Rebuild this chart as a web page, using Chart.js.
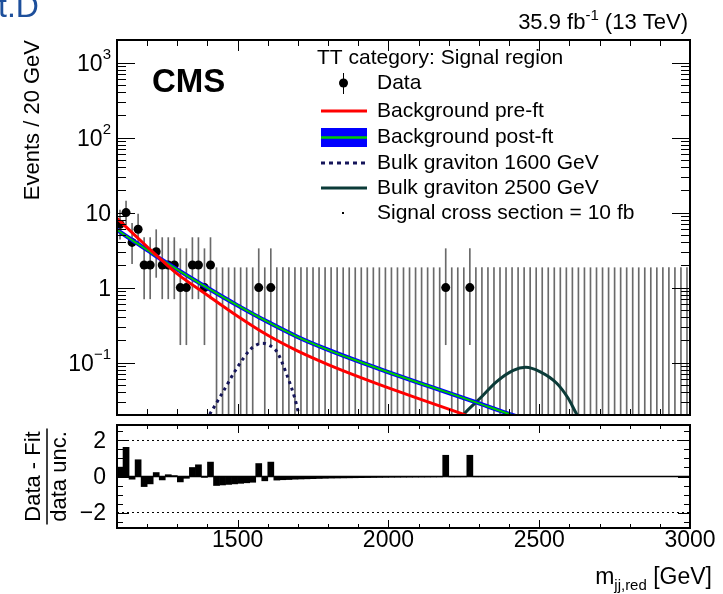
<!DOCTYPE html>
<html><head><meta charset="utf-8">
<script src="https://cdn.jsdelivr.net/npm/chart.js@4/dist/chart.umd.min.js"></script>
<style>
html,body{margin:0;padding:0;background:#fff;width:723px;height:594px;overflow:hidden;}
canvas{position:absolute;left:0;}
#topc{top:0;width:723px;height:420px;}
#botc{top:420px;width:723px;height:174px;}
</style></head><body>
<canvas id="topc" width="723" height="420"></canvas>
<canvas id="botc" width="723" height="174"></canvas>
<script>
const FONT = "'Liberation Sans', Arial, Helvetica, sans-serif";

// ---------- data ----------
const binCenters = [1110,1130,1150,1170,1190,1210,1230,1250,1270,1290,1310,1330,1350,1370,1390,1410,1430,1450,1470,1490,
  1510,1530,1550,1570,1590,1610,1630,1650,1670,1690,1710,1730,1750,1770,1790,1810,1830,1850,1870,1890,
  1910,1930,1950,1970,1990,2010,2030,2050,2070,2090,2110,2130,2150,2170,2190,2210,2230,2250,2270,2290,
  2310,2330,2350,2370,2390,2410,2430,2450,2470,2490,2510,2530,2550,2570,2590,2610,2630,2650,2670,2690,
  2710,2730,2750,2770,2790,2810,2830,2850,2870,2890,2910,2930,2950,2970,2990];
const dataCounts = [7,10,4,6,2,2,3,2,2,2,1,1,2,2,1,2,0,0,0,0,
  0,0,0,1,0,1,0,0,0,0,0,0,0,0,0,0,0,0,0,0,
  0,0,0,0,0,0,0,0,0,0,0,0,0,0,1,0,0,0,1,0,
  0,0,0,0,0,0,0,0,0,0,0,0,0,0,0,0,0,0,0,0,
  0,0,0,0,0,0,0,0,0,0,0,0,0,0,0];
// Poisson (Garwood 68%) interval edges per observed count
const poissonLow  = {0:0.02, 1:0.173, 2:0.708, 3:1.367, 4:2.086, 6:3.620, 7:4.419, 10:6.891};
const poissonHigh = {0:1.841, 1:3.300, 2:4.638, 3:5.918, 4:7.163, 6:9.584, 7:10.77, 10:14.27};

const pulls = [0.52,1.62,-0.15,0.93,-0.56,-0.41,0.22,-0.19,0.10,0.05,-0.30,-0.10,0.50,0.65,-0.05,0.80,-0.50,-0.47,-0.44,-0.41,
  -0.38,-0.35,-0.32,0.72,-0.24,0.80,-0.20,-0.18,-0.17,-0.15,-0.14,-0.13,-0.12,-0.11,-0.10,-0.09,-0.085,-0.08,-0.075,-0.07,
  -0.065,-0.06,-0.055,-0.05,-0.045,-0.04,-0.038,-0.035,-0.033,-0.03,-0.028,-0.026,-0.024,-0.022,1.18,-0.02,-0.019,-0.018,1.18,-0.016,
  -0.015,-0.014,-0.013,-0.012,-0.012,-0.011,-0.010,-0.010,-0.009,-0.009,-0.008,-0.008,-0.007,-0.007,-0.007,-0.006,-0.006,-0.006,-0.005,-0.005,
  -0.005,-0.005,-0.005,-0.005,-0.004,-0.004,-0.004,-0.004,-0.004,-0.004,-0.003,-0.003,-0.003,-0.003,-0.003];

const preFitX = [1100,1150,1200,1250,1300,1400,1500,1600,1700,1800,1900,2000,2100,2200,2300];
const preFitY = [8.4,5.4,3.5,2.28,1.52,0.79,0.415,0.231,0.142,0.094,0.065,0.046,0.033,0.0239,0.0174];
const postFitX = [1100,1150,1200,1250,1300,1400,1500,1600,1700,1800,1900,2000,2100,2200,2300,2400,2460];
const postFitY = [5.9,4.3,3.17,2.33,1.74,0.99,0.577,0.348,0.219,0.148,0.104,0.0743,0.0538,0.0394,0.0286,0.0207,0.0173];
const grav1600X = [1395,1406,1452,1497,1541,1560,1583,1605,1630,1663,1690,1704,1712];
const grav1600Y = [0.017,0.02,0.041,0.084,0.148,0.170,0.181,0.170,0.140,0.069,0.033,0.020,0.017];
const grav2500X = [2240,2248,2304,2359,2414,2455,2502,2558,2596,2626,2635];
const grav2500Y = [0.018,0.020,0.0334,0.0558,0.0788,0.0865,0.0757,0.053,0.0334,0.020,0.018];

const yTickValues = [0.1,1,10,100,1000];
const yTickBase = ['10','1','10','10','10'];
const yTickExp = ['\u22121','','','2','3'];
const xTickValues = [1500,2000,2500,3000];
const xTickLabels = ['1500','2000','2500','3000'];
const rTickValues = [-2,0,2];
const rTickLabels = ['\u22122','0','2'];

const legendHeader = 'TT category: Signal region';
const legendLabels = ['Data','Background pre-ft','Background post-ft','Bulk graviton 1600 GeV','Bulk graviton 2500 GeV','Signal cross section = 10 fb'];
const cmsLabel = 'CMS';
const lumiParts = ['35.9 fb','-1',' (13 TeV)'];
const cornerText = 't.D';
const xTitleParts = ['m','jj,red',' [GeV]'];
const yTitle = 'Events / 20 GeV';
const rTitleNum = 'Data - Fit';
const rTitleDen = 'data unc.';

// ---------- derived datasets ----------
const pts = (xs, ys) => xs.map((x,i)=>({x, y: ys[i]}));
const dataPoints = binCenters.map((x,i)=>({x, y: dataCounts[i]})).filter(p=>p.y>0);
const errBars = binCenters.map((x,i)=>({x, y:[poissonLow[dataCounts[i]], poissonHigh[dataCounts[i]]]}));
const pullBars = binCenters.map((x,i)=>({x, y: pulls[i]}));

// ---------- plugins ----------
const rootFrame = {
  id: 'rootFrame',
  afterDatasetsDraw(chart, args, o) {
    const {ctx, chartArea: a, scales} = chart;
    const xs = scales.x, ys = scales.y;
    ctx.save();
    if (o.hlines) {
      o.hlines.forEach(h => {
        const p = ys.getPixelForValue(h.v);
        ctx.beginPath(); ctx.setLineDash(h.dash || []); ctx.lineWidth = h.w; ctx.strokeStyle = '#000';
        ctx.moveTo(a.left, p); ctx.lineTo(a.right, p); ctx.stroke();
      });
      ctx.setLineDash([]);
    }
    ctx.strokeStyle = '#000'; ctx.lineWidth = 1;
    ctx.beginPath();
    const xt = (list, len) => list.forEach(v => {
      const p = Math.round(xs.getPixelForValue(v)) + 0.5;
      if (p <= a.left + 1 || p >= a.right - 1) return;
      ctx.moveTo(p, a.bottom); ctx.lineTo(p, a.bottom - len);
      ctx.moveTo(p, a.top); ctx.lineTo(p, a.top + len);
    });
    const yt = (list, len) => list.forEach(v => {
      const p = Math.round(ys.getPixelForValue(v)) + 0.5;
      if (p <= a.top + 1 || p >= a.bottom - 1) return;
      ctx.moveTo(a.left, p); ctx.lineTo(a.left + len, p);
      ctx.moveTo(a.right, p); ctx.lineTo(a.right - len, p);
    });
    xt(o.xMajor, o.xMajLen); xt(o.xMinor, o.xMinLen);
    yt(o.yMajor, o.yMajLen); yt(o.yMinor, o.yMinLen);
    ctx.stroke();
    ctx.lineWidth = 2;
    ctx.strokeRect(a.left, a.top, a.right - a.left, a.bottom - a.top);
    ctx.restore();
  }
};

const topText = {
  id: 'topText',
  afterDraw(chart) {
    const ctx = chart.ctx;
    const ys = chart.scales.y;
    ctx.save();
    ctx.fillStyle = '#000'; ctx.textBaseline = 'alphabetic'; ctx.textAlign = 'left';
    yTickValues.forEach((v, i) => {
      const p = ys.getPixelForValue(v);
      ctx.font = `23px ${FONT}`;
      const wb = ctx.measureText(yTickBase[i]).width;
      ctx.font = `15px ${FONT}`;
      const we = yTickExp[i] ? ctx.measureText(yTickExp[i]).width : 0;
      const right = 111;
      ctx.font = `23px ${FONT}`;
      ctx.fillText(yTickBase[i], right - we - wb, p + 8);
      if (yTickExp[i]) { ctx.font = `15px ${FONT}`; ctx.fillText(yTickExp[i], right - we, p - 4); }
    });
    // corner (cut) text
    ctx.fillStyle = '#1d4f9b';
    ctx.font = `32px ${FONT}`;
    ctx.fillText(cornerText, -2, 17);
    // lumi
    ctx.fillStyle = '#000';
    ctx.font = `22px ${FONT}`;
    const w3 = ctx.measureText(lumiParts[2]).width;
    ctx.font = `15px ${FONT}`;
    const w2 = ctx.measureText(lumiParts[1]).width;
    ctx.font = `22px ${FONT}`;
    const w1 = ctx.measureText(lumiParts[0]).width;
    const xr = 688;
    ctx.fillText(lumiParts[2], xr - w3, 29);
    ctx.font = `15px ${FONT}`;
    ctx.fillText(lumiParts[1], xr - w3 - w2, 20);
    ctx.font = `22px ${FONT}`;
    ctx.fillText(lumiParts[0], xr - w3 - w2 - w1, 29);
    // CMS
    ctx.font = `bold 33px ${FONT}`;
    ctx.fillText(cmsLabel, 152, 92);
    // legend
    ctx.font = `21px ${FONT}`; ctx.textBaseline = 'middle';
    ctx.fillText(legendHeader, 317, 58);
    const ly = [83,111,137,163,188,213];
    legendLabels.forEach((t,i)=> ctx.fillText(t, 377, ly[i]));
    ctx.strokeStyle = '#000'; ctx.lineWidth = 1;
    ctx.beginPath(); ctx.moveTo(343.5, 73); ctx.lineTo(343.5, 94); ctx.stroke();
    ctx.beginPath(); ctx.arc(343.5, 83, 4.5, 0, Math.PI*2); ctx.fill();
    ctx.lineWidth = 3; ctx.strokeStyle = '#ff0000';
    ctx.beginPath(); ctx.moveTo(321, 111); ctx.lineTo(367, 111); ctx.stroke();
    ctx.fillStyle = '#0000ff'; ctx.fillRect(321, 128, 46, 19);
    ctx.strokeStyle = '#00cc00'; ctx.lineWidth = 2.5;
    ctx.beginPath(); ctx.moveTo(321, 137.5); ctx.lineTo(367, 137.5); ctx.stroke();
    ctx.strokeStyle = '#15155a'; ctx.lineWidth = 3; ctx.setLineDash([4,4]);
    ctx.beginPath(); ctx.moveTo(321, 163); ctx.lineTo(367, 163); ctx.stroke();
    ctx.setLineDash([]);
    ctx.strokeStyle = '#0b3b38'; ctx.lineWidth = 3;
    ctx.beginPath(); ctx.moveTo(321, 188); ctx.lineTo(367, 188); ctx.stroke();
    ctx.fillStyle = '#000'; ctx.fillRect(342, 212, 2, 2);
    ctx.restore();
  }
};

const botText = {
  id: 'botText',
  afterDraw(chart) {
    const ctx = chart.ctx;
    const xs = chart.scales.x, ys = chart.scales.y;
    ctx.save();
    ctx.fillStyle = '#000'; ctx.strokeStyle = '#000';
    // tick labels
    ctx.font = `23px ${FONT}`; ctx.textBaseline = 'middle';
    ctx.textAlign = 'center';
    xTickValues.forEach((v,i)=> ctx.fillText(xTickLabels[i], xs.getPixelForValue(v), 121));
    ctx.textAlign = 'right';
    rTickValues.forEach((v,i)=> ctx.fillText(rTickLabels[i], 106, ys.getPixelForValue(v) + 1));
    // x title with subscript
    ctx.textAlign = 'left'; ctx.textBaseline = 'alphabetic';
    ctx.font = `23px ${FONT}`;
    const wm = ctx.measureText(xTitleParts[0]).width;
    const wg = ctx.measureText(xTitleParts[2]).width;
    ctx.font = `15px ${FONT}`;
    const ws = ctx.measureText(xTitleParts[1]).width;
    const xr = 712, base = 164;
    const x0 = xr - wg - ws - wm;
    ctx.font = `23px ${FONT}`; ctx.fillText(xTitleParts[0], x0, base);
    ctx.font = `15px ${FONT}`; ctx.fillText(xTitleParts[1], x0 + wm, base + 6);
    ctx.font = `23px ${FONT}`; ctx.fillText(xTitleParts[2], x0 + wm + ws, base);
    // y title as a fraction
    const yc = ys.getPixelForValue(0);
    ctx.translate(0, yc); ctx.rotate(-Math.PI/2);
    ctx.font = `22px ${FONT}`; ctx.textAlign = 'center'; ctx.textBaseline = 'middle';
    ctx.fillText(rTitleNum, 0, 34);
    ctx.fillText(rTitleDen, 0, 60);
    ctx.lineWidth = 1.5;
    ctx.beginPath(); ctx.moveTo(-48, 47); ctx.lineTo(48, 47); ctx.stroke();
    ctx.restore();
  }
};

const xMinorTicks = []; for (let v = 1200; v < 3000; v += 100) if (v % 500) xMinorTicks.push(v);
const yMinorTicks = []; for (let e = -2; e <= 3; e++) for (let k = 2; k <= 9; k++) { const v = k * Math.pow(10, e); if (v > 0.02 && v < 2000) yMinorTicks.push(v); }
const rMinorTicks = [-2.5,-1.5,-1,-0.5,0.5,1,1.5,2.5];

Chart.defaults.font.family = FONT;
Chart.defaults.color = '#000';

new Chart(document.getElementById('topc'), {
  type: 'line',
  data: { datasets: [
    { type:'line', label:'Background pre-fit', data: pts(preFitX, preFitY), borderColor:'#ff0000', borderWidth:3, pointRadius:0, cubicInterpolationMode:'monotone', order:0 },
    { type:'line', label:'Background post-fit', data: pts(postFitX, postFitY), borderColor:'#00cc00', borderWidth:2, pointRadius:0, cubicInterpolationMode:'monotone', order:1 },
    { type:'line', label:'Background post-fit band', data: pts(postFitX, postFitY), borderColor:'#0000ff', borderWidth:4.2, pointRadius:0, cubicInterpolationMode:'monotone', order:2 },
    { type:'line', label:'Bulk graviton 2500 GeV', data: pts(grav2500X, grav2500Y), borderColor:'#0b3b38', borderWidth:3, pointRadius:0, cubicInterpolationMode:'monotone', order:3 },
    { type:'line', label:'Bulk graviton 1600 GeV', data: pts(grav1600X, grav1600Y), borderColor:'#15155a', borderWidth:3, borderDash:[3,4], pointRadius:0, cubicInterpolationMode:'monotone', order:4 },
    { type:'scatter', label:'Data', data: dataPoints, pointRadius:4.5, pointBackgroundColor:'#000', pointBorderWidth:0, showLine:false, order:5 },
    { type:'bar', label:'Data errors', data: errBars, backgroundColor:'#6a6a6a', barThickness:1, order:6 }
  ]},
  options: {
    responsive:false, animation:false, devicePixelRatio:1, events:[],
    layout:{ padding:{ left:0, top:40, right:33, bottom:5 } },
    plugins:{ legend:{display:false}, tooltip:{enabled:false},
      rootFrame:{ xMajor: xTickValues, xMinor: xMinorTicks, xMajLen:11, xMinLen:6,
                  yMajor: yTickValues, yMinor: yMinorTicks, yMajLen:18, yMinLen:9 } },
    scales:{
      x:{ type:'linear', min:1100, max:3000, offset:false, grid:{display:false, drawTicks:false, offset:false}, border:{display:false}, ticks:{display:false}, afterFit:s=>{s.height=0;} },
      y:{ type:'logarithmic', min:0.02, max:2000, grid:{display:false, drawTicks:false}, border:{display:false},
          afterBuildTicks: s => { s.ticks = yTickValues.map(v=>({value:v})); },
          ticks:{ display:false },
          title:{ display:true, text:yTitle, align:'end', font:{size:22}, color:'#000', padding:{top:20,bottom:0} },
          afterFit: s=>{ s.width = 117; } }
    }
  },
  plugins:[rootFrame, topText]
});

new Chart(document.getElementById('botc'), {
  type: 'bar',
  data: { datasets: [
    { label:'(Data - Fit) / data unc.', data: pullBars, backgroundColor:'#000', borderWidth:0, barPercentage:1, categoryPercentage:1 }
  ]},
  options: {
    responsive:false, animation:false, devicePixelRatio:1, events:[],
    layout:{ padding:{ left:0, top:5, right:33, bottom:0 } },
    plugins:{ legend:{display:false}, tooltip:{enabled:false},
      rootFrame:{ xMajor: xTickValues, xMinor: xMinorTicks, xMajLen:8, xMinLen:4,
                  yMajor: rTickValues, yMinor: rMinorTicks, yMajLen:12, yMinLen:6,
                  hlines:[{v:2, w:1, dash:[2,3]}, {v:-2, w:1, dash:[2,3]}, {v:0, w:1.5}] } },
    scales:{
      x:{ type:'linear', min:1100, max:3000, offset:false, grid:{display:false, drawTicks:false, offset:false}, border:{display:false},
          afterBuildTicks: s => { s.ticks = xTickValues.map(v=>({value:v})); },
          ticks:{ display:false },
          afterFit:s=>{ s.height = 66; } },
      y:{ type:'linear', min:-2.86, max:2.86, grid:{display:false, drawTicks:false}, border:{display:false},
          afterBuildTicks: s => { s.ticks = rTickValues.map(v=>({value:v})); },
          ticks:{ display:false },
          afterFit: s=>{ s.width = 117; } }
    }
  },
  plugins:[rootFrame, botText]
});
</script>
</body></html>
